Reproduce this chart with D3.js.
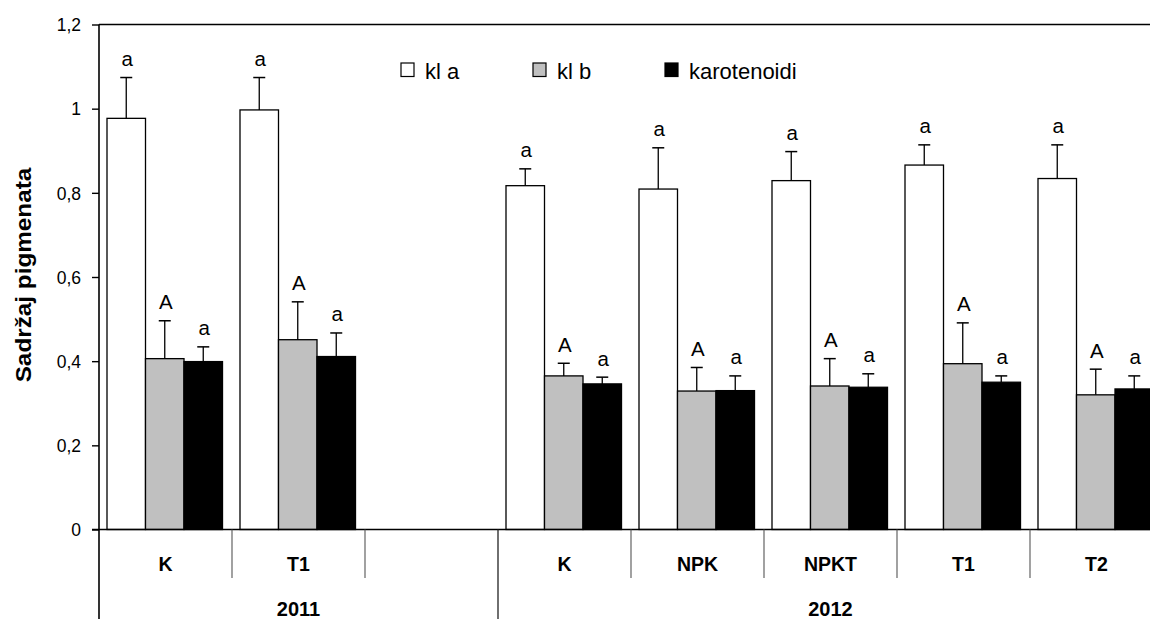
<!DOCTYPE html>
<html>
<head>
<meta charset="utf-8">
<script src="https://cdn.jsdelivr.net/npm/d3@7"></script>
<style>
  body { margin: 0; background: #fff; }
  svg { display: block; font-family: "Liberation Sans", Arial, Helvetica, sans-serif; }
</style>
</head>
<body>
<svg id="chart" width="1150" height="619"></svg>
<script>
// ---- data ----
const categories = ["K", "T1", "", "K", "NPK", "NPKT", "T1", "T2"];
const years = ["2011", "2012"];
const yearOfCategory = ["2011", "2011", "2011", "2012", "2012", "2012", "2012", "2012"];
const seriesNames = ["kl a", "kl b", "karotenoidi"];
const klA    = [0.977, 0.997, null, 0.817, 0.809, 0.829, 0.866, 0.834];
const klAErr = [0.097, 0.077, null, 0.040, 0.098, 0.069, 0.048, 0.080];
const klB    = [0.406, 0.451, null, 0.365, 0.329, 0.341, 0.394, 0.320];
const klBErr = [0.090, 0.090, null, 0.030, 0.056, 0.065, 0.097, 0.061];
const karot    = [0.399, 0.411, null, 0.346, 0.330, 0.338, 0.350, 0.334];
const karotErr = [0.035, 0.056, null, 0.016, 0.035, 0.032, 0.015, 0.031];
const letters = ["a", "A", "a"];
const yTicks = [0, 0.2, 0.4, 0.6, 0.8, 1.0, 1.2];
const yTickLabels = ["0", "0,2", "0,4", "0,6", "0,8", "1", "1,2"];
const yTitle = "Sadržaj pigmenata";

// ---- styles ----
const fills = ["#ffffff", "#c0c0c0", "#000000"];
const values = [klA, klB, karot];
const errors = [klAErr, klBErr, karotErr];

const svg = d3.select("#chart");
const plotLeft = 99, plotTop = 24.5, zeroY = 529.5, catW = 133;

const y = d3.scaleLinear().domain([0, 1.2]).range([zeroY, plotTop]);
const x0 = d3.scaleBand().domain(d3.range(categories.length)).range([plotLeft, plotLeft + catW * categories.length]);
const x1 = d3.scaleBand().domain(d3.range(seriesNames.length)).range([8, 123.5]);

// frame top line
svg.append("line").attr("x1", plotLeft).attr("x2", x0.range()[1]).attr("y1", y(1.2)).attr("y2", y(1.2))
  .attr("stroke", "#000").attr("stroke-width", 1.6);

// y axis
const yAxis = d3.axisLeft(y).tickValues(yTicks).tickSize(7).tickPadding(11)
  .tickFormat((d, i) => yTickLabels[i]);
const ga = svg.append("g").attr("transform", `translate(${plotLeft},0)`).call(yAxis);
ga.select(".domain").remove();
ga.selectAll(".tick line").attr("stroke", "#000").attr("stroke-width", 1.4);
ga.selectAll(".tick text").attr("font-size", 17.5).attr("fill", "#000")
  .attr("font-family", "'Liberation Sans', Arial, sans-serif").attr("dy", "0.36em");

// bars
const rows = [];
categories.forEach((c, ci) => {
  values.forEach((vals, si) => {
    if (vals[ci] != null) rows.push({ ci, si, v: vals[ci], e: errors[si][ci] });
  });
});

const g = svg.append("g");
g.selectAll("rect.bar").data(rows).join("rect")
  .attr("class", "bar")
  .attr("x", d => x0(d.ci) + x1(d.si))
  .attr("width", x1.bandwidth())
  .attr("y", d => y(d.v))
  .attr("height", d => y(0) - y(d.v))
  .attr("fill", d => fills[d.si])
  .attr("stroke", "#000").attr("stroke-width", 1.3);

// error bars
const cx = d => x0(d.ci) + x1(d.si) + x1.bandwidth() / 2;
g.selectAll("line.err").data(rows).join("line")
  .attr("class", "err")
  .attr("x1", cx).attr("x2", cx)
  .attr("y1", d => y(d.v)).attr("y2", d => y(d.v + d.e))
  .attr("stroke", "#000").attr("stroke-width", 1.3);
g.selectAll("line.cap").data(rows).join("line")
  .attr("class", "cap")
  .attr("x1", d => cx(d) - 6).attr("x2", d => cx(d) + 6)
  .attr("y1", d => y(d.v + d.e)).attr("y2", d => y(d.v + d.e))
  .attr("stroke", "#000").attr("stroke-width", 1.5);
g.selectAll("text.lbl").data(rows).join("text")
  .attr("class", "lbl")
  .attr("x", d => cx(d) + 1)
  .attr("y", d => y(d.v + d.e) - 11.5)
  .attr("text-anchor", "middle")
  .attr("font-size", 20.5)
  .text(d => letters[d.si]);

// zero line (category axis)
svg.append("line").attr("x1", plotLeft - 7).attr("x2", x0.range()[1]).attr("y1", zeroY).attr("y2", zeroY)
  .attr("stroke", "#000").attr("stroke-width", 1.6);
// left axis line
svg.append("line").attr("x1", plotLeft).attr("x2", plotLeft).attr("y1", plotTop).attr("y2", 619)
  .attr("stroke", "#000").attr("stroke-width", 1.6);

// category separators
const bounds = d3.range(1, categories.length + 1);
bounds.forEach(i => {
  const isYear = i < categories.length && yearOfCategory[i] !== yearOfCategory[i - 1];
  svg.append("line")
    .attr("x1", x0(0) + i * x0.step()).attr("x2", x0(0) + i * x0.step())
    .attr("y1", zeroY).attr("y2", isYear ? 619 : 578)
    .attr("stroke", isYear ? "#222" : "#555").attr("stroke-width", isYear ? 1.3 : 1.1);
});

// category labels
svg.selectAll("text.cat").data(categories).join("text")
  .attr("class", "cat")
  .attr("x", (d, i) => x0(i) + x0.bandwidth() / 2)
  .attr("y", 570.5)
  .attr("text-anchor", "middle")
  .attr("font-weight", "bold").attr("font-size", 19.5)
  .text(d => d);

// year labels
years.forEach(yr => {
  const idx = yearOfCategory.map((v, i) => v === yr ? i : -1).filter(i => i >= 0);
  const x = (x0(idx[0]) + x0(idx[idx.length - 1]) + x0.bandwidth()) / 2;
  svg.append("text").attr("x", x).attr("y", 615.5).attr("text-anchor", "middle")
    .attr("font-weight", "bold").attr("font-size", 20).text(yr);
});

// y title
svg.append("text")
  .attr("transform", "translate(31,275) rotate(-90) scale(1.13,1)")
  .attr("text-anchor", "middle")
  .attr("font-weight", "bold").attr("font-size", 21.5)
  .text(yTitle);

// legend
const legX = [401, 533, 665];
const leg = svg.append("g");
seriesNames.forEach((s, i) => {
  leg.append("rect").attr("x", legX[i]).attr("y", 63).attr("width", 13).attr("height", 13.5)
    .attr("fill", fills[i]).attr("stroke", "#000").attr("stroke-width", 1.2);
  leg.append("text").attr("x", legX[i] + 24).attr("y", 78.5).attr("font-size", 22).text(s);
});
</script>
</body>
</html>
